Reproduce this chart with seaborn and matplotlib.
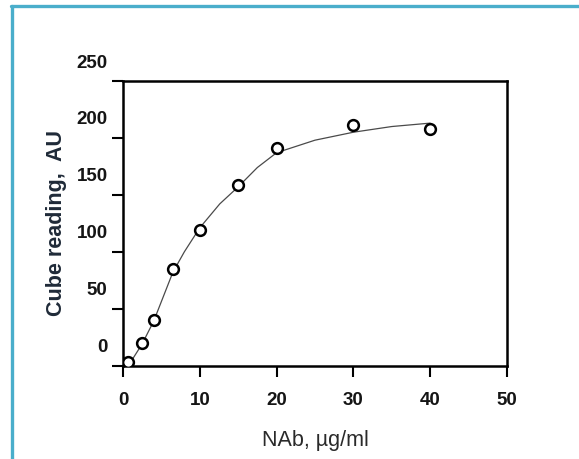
import matplotlib
matplotlib.use("Agg")
import matplotlib.pyplot as plt
import matplotlib.transforms as mtransforms
from matplotlib.lines import Line2D
import seaborn as sns
import pandas as pd

# measured points
nab = [0.7, 2.5, 4, 6.5, 10, 15, 20, 30, 40]
reading = [3, 20, 40, 85, 119, 159, 191, 211, 208]

# fitted curve
curve_x = [0.5, 1, 2.5, 4, 6.5, 8, 10, 12.6, 15, 17.5, 20, 25, 30, 35, 40]
curve_y = [0, 3, 19, 39, 82, 100, 121, 142, 157, 174, 187, 198, 205, 210, 213]

x_ticks = [0, 10, 20, 30, 40, 50]
y_ticks = [0, 50, 100, 150, 200, 250]

sns.set_theme(style="ticks")
plt.rcParams["font.family"] = ["Liberation Sans", "DejaVu Sans"]

pts = pd.DataFrame({"x": nab, "y": reading})
fit = pd.DataFrame({"x": curve_x, "y": curve_y})

fig = plt.figure(figsize=(5.79, 4.59), dpi=100)
ax = fig.add_axes([0.2124, 0.2037, 0.8756 - 0.2124, 0.8235 - 0.2037])

sns.lineplot(data=fit, x="x", y="y", ax=ax, color="#4a4a4a", lw=0.9)
sns.scatterplot(data=pts, x="x", y="y", ax=ax, marker="o", s=60,
                facecolor="white", edgecolor="black", linewidth=1.8, zorder=3)

ax.set_xlim(0, 50)
ax.set_ylim(0, 250)
ax.set_xticks(x_ticks)
ax.set_yticks(y_ticks)
ax.set_xticklabels([str(v) for v in x_ticks], fontweight="bold", fontsize=13.5)
ax.set_yticklabels([str(v) for v in y_ticks], fontweight="bold", fontsize=13.5)
ax.tick_params(axis="x", direction="out", length=8, width=1.5, pad=11, colors="black")
ax.tick_params(axis="y", direction="out", length=8, width=1.5, pad=3, colors="black")
for lab in ax.get_xticklabels() + ax.get_yticklabels():
    lab.set_color("#151515")

# labels in the scan sit higher than their ticks
shift = mtransforms.ScaledTranslation(0, 0.2, fig.dpi_scale_trans)
for lab in ax.get_yticklabels():
    lab.set_transform(lab.get_transform() + shift)

for sp in ax.spines.values():
    sp.set_linewidth(1.8)
    sp.set_color("black")

ax.set_xlabel("NAb, µg/ml", fontsize=15.5, color="#2a2a2a", labelpad=15)
ax.set_ylabel("Cube reading,  AU", fontsize=15.5, fontweight="bold",
              color="#1f2a38", labelpad=7)

# blue frame around the picture
blue = "#4aaecb"
fig.add_artist(Line2D([11 / 579, 1], [1 - 6 / 459, 1 - 6 / 459],
                      transform=fig.transFigure, color=blue, lw=2.4))
fig.add_artist(Line2D([12 / 579, 12 / 579], [0, 1 - 6 / 459],
                      transform=fig.transFigure, color=blue, lw=2.4))

fig.savefig("out.png", dpi=100)
